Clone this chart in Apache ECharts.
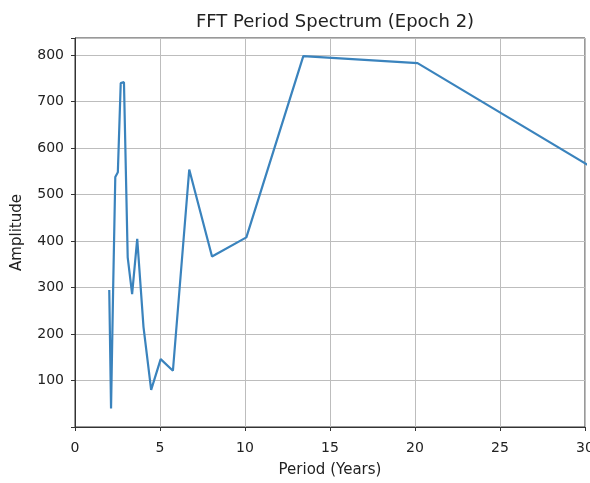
<!DOCTYPE html>
<html>
<head>
  <meta charset="utf-8">
  <title>FFT Period Spectrum</title>
  <script src="https://cdn.jsdelivr.net/npm/echarts@6/dist/echarts.min.js"></script>
  <style>html,body{margin:0;padding:0;background:#fff;}</style>
</head>
<body>
<div id="main" style="width:590px;height:483px;"></div>
<script type="text/javascript">
  // period (years) and FFT amplitude
  var periods = [2.015, 2.12, 2.24, 2.37, 2.52, 2.69, 2.88, 3.10, 3.36, 3.66, 4.03, 4.48, 5.04, 5.76, 6.72, 8.06, 10.08, 13.43, 20.15, 40.3];
  var amplitudes = [295, 40, 290, 538, 548, 740, 742, 365, 286, 405, 215, 80, 146, 121, 554, 367, 408, 798, 783, 342];

  var myChart = echarts.init(document.getElementById('main'));
  var font = 'DejaVu Sans';

  var data = periods.map(function (p, i) { return [p, amplitudes[i]]; });

  var option = {
    animation: false,
    backgroundColor: '#fff',
    title: {
      text: 'FFT Period Spectrum (Epoch 2)',
      left: 330, top: 8, textAlign: 'center',
      textStyle: {fontFamily: font, fontSize: 18, fontWeight: 'normal', color: '#222'}
    },
    grid: {
      left: 75, right: 5, top: 38, bottom: 56,
      outerBoundsMode: 'none',
      show: true, borderColor: '#333', borderWidth: 1, backgroundColor: 'transparent'
    },
    xAxis: {
      type: 'value', min: 0, max: 30, interval: 5,
      name: 'Period (Years)', nameLocation: 'middle', nameGap: 36,
      nameTextStyle: {fontFamily: font, fontSize: 15, color: '#222'},
      axisLine: {lineStyle: {color: '#333'}},
      axisTick: {show: true, length: 4, lineStyle: {color: '#333'}},
      axisLabel: {fontFamily: font, fontSize: 14, color: '#222', margin: 14},
      splitLine: {show: true, lineStyle: {color: '#bdbdbd', width: 1}}
    },
    yAxis: {
      type: 'value', min: 0, max: 837, interval: 100,
      name: 'Amplitude', nameLocation: 'middle', nameGap: 50,
      nameTextStyle: {fontFamily: font, fontSize: 15, color: '#222'},
      axisLine: {show: true, lineStyle: {color: '#333'}},
      axisTick: {show: true, length: 4, lineStyle: {color: '#333'}},
      axisLabel: {
        fontFamily: font, fontSize: 14, color: '#222', margin: 11,
        formatter: function (v) { return (v > 0 && v % 100 === 0) ? v : ''; }
      },
      splitLine: {show: true, lineStyle: {color: '#bdbdbd', width: 1}}
    },
    series: [{
      type: 'line',
      data: data,
      showSymbol: false,
      clip: true,
      lineStyle: {color: '#3a83bd', width: 2.2}
    }]
  };

  myChart.setOption(option);
</script>
</body>
</html>
